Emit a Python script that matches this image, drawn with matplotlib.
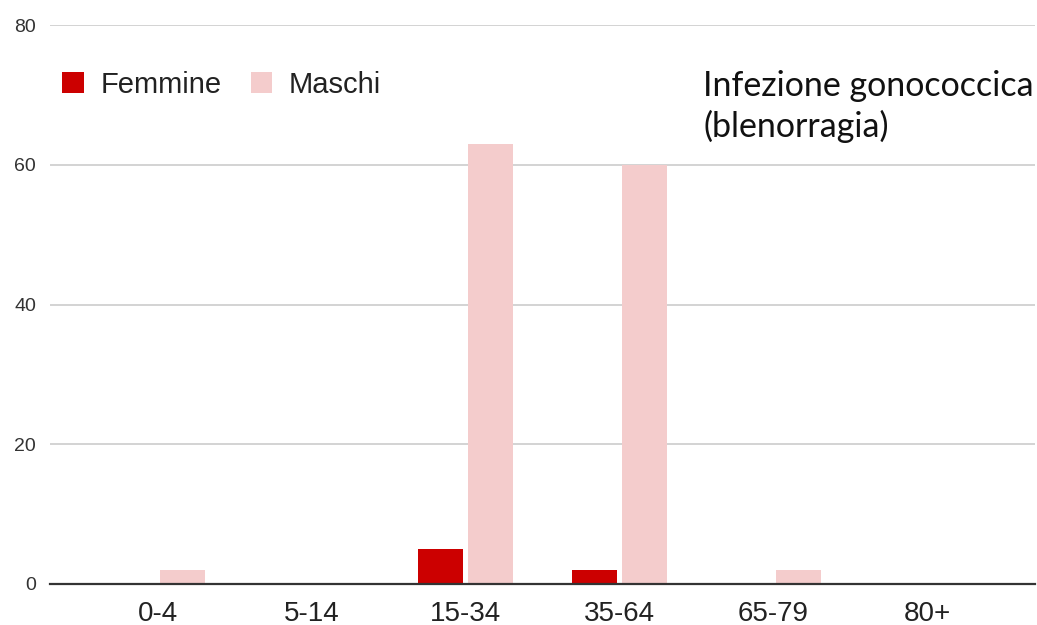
import matplotlib
matplotlib.use("Agg")
import matplotlib.pyplot as plt
import numpy as np

categories = ["0-4", "5-14", "15-34", "35-64", "65-79", "80+"]
femmine = [0, 0, 5, 2, 0, 0]
maschi = [2, 0, 63, 60, 2, 0]
yticks = [0, 20, 40, 60, 80]

RED = "#cc0000"
PINK = "#f4cccc"

fig = plt.figure(figsize=(10.37, 6.25), dpi=100)
ax = fig.add_axes([0.048, 0.0656, 0.95, 0.894])

x = np.arange(len(categories))
w = 0.29
off = 0.162
ax.bar(x - off, femmine, w, color=RED, label="Femmine", zorder=3)
ax.bar(x + off, maschi, w, color=PINK, label="Maschi", zorder=3)

ax.set_xlim(-0.7, 5.7)
ax.set_ylim(0, 80)
ax.set_yticks(yticks)
ax.set_xticks(x)
ax.set_xticklabels(categories, fontsize=20, family="Liberation Sans", color="#222")
ax.tick_params(axis="x", length=0, pad=12)
ax.tick_params(axis="y", length=0, pad=10, labelsize=14, labelcolor="#333")
for lab in ax.get_yticklabels():
    lab.set_family("Liberation Sans")

ax.grid(axis="y", color="#cccccc", linewidth=1.2, zorder=0)
for s in ["top", "right", "left"]:
    ax.spines[s].set_visible(False)
ax.spines["bottom"].set_color("#333333")
ax.spines["bottom"].set_linewidth(1.6)
ax.spines["bottom"].set_zorder(4)

leg = ax.legend(loc="upper left", bbox_to_anchor=(-0.008, 0.955), ncol=2, frameon=False,
                prop={"family": "Liberation Sans", "size": 21},
                handlelength=0.75, handleheight=0.75, handletextpad=0.55,
                columnspacing=1.0, borderaxespad=0.3)
for t in leg.get_texts():
    t.set_color("#222")

fig.text(0.678, 0.888, "Infezione gonococcica\n(blenorragia)", fontsize=24.5,
         family="Lato", color="#111", va="top", ha="left", linespacing=1.3)

fig.savefig("out.png", dpi=100, facecolor="white")
